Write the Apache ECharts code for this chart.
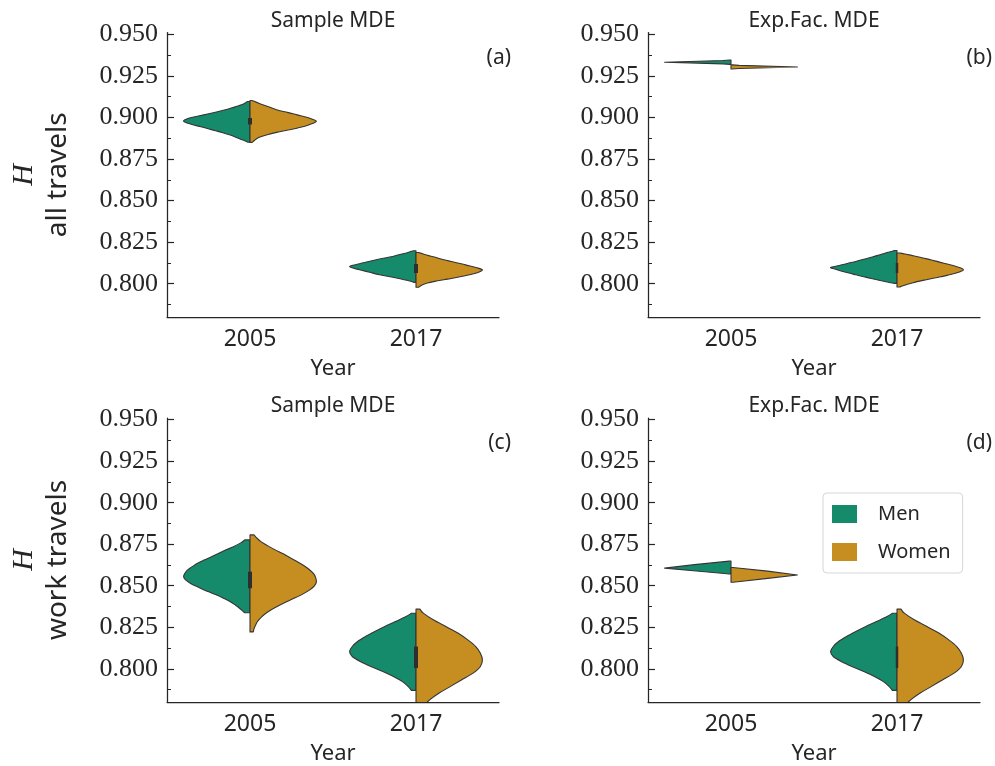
<!DOCTYPE html>
<html>
<head>
<meta charset="utf-8">
<script src="https://cdn.jsdelivr.net/npm/echarts@6/dist/echarts.min.js"></script>
<style>html,body{margin:0;padding:0;background:#fff}#chart{width:995px;height:766px}</style>
</head>
<body>
<div id="chart"></div>
<script>
// ---------------- data ----------------
const years = ['2005', '2017'];
const sexes = ['Men', 'Women'];
const yTicks = [0.800, 0.825, 0.850, 0.875, 0.900, 0.925, 0.950];
const yMinorTicks = [0.7875, 0.8125, 0.8375, 0.8625, 0.8875, 0.9125, 0.9375];
const panelTitles = ['Sample MDE', 'Exp.Fac. MDE', 'Sample MDE', 'Exp.Fac. MDE'];
const panelTags = ['(a)', '(b)', '(c)', '(d)'];
const rowLabels = ['all travels', 'work travels'];
const xName = 'Year';

// half-violin outlines: [H value, relative half-width (1 = widest)]
const allSample2005Men = [[0.9096,0.04],[0.9082,0.09],[0.9070,0.17],[0.9058,0.27],[0.9046,0.37],[0.9034,0.49],[0.9022,0.62],[0.9010,0.76],[0.8998,0.90],[0.8986,0.98],[0.8977,1.00],[0.8968,0.96],[0.8956,0.86],[0.8944,0.74],[0.8932,0.63],[0.8920,0.52],[0.8908,0.41],[0.8896,0.31],[0.8884,0.23],[0.8872,0.16],[0.8860,0.08],[0.8851,0.03]];
const allSample2005Women = [[0.9102,0.03],[0.9082,0.15],[0.9064,0.28],[0.9046,0.40],[0.9034,0.52],[0.9022,0.65],[0.9010,0.76],[0.8998,0.88],[0.8986,0.96],[0.8976,1.00],[0.8965,0.95],[0.8952,0.86],[0.8941,0.76],[0.8930,0.65],[0.8920,0.52],[0.8910,0.40],[0.8896,0.26],[0.8882,0.15],[0.8869,0.09],[0.8856,0.05],[0.8850,0.03]];
const allSample2017Men = [[0.8198,0.04],[0.8191,0.10],[0.8183,0.16],[0.8174,0.26],[0.8164,0.35],[0.8155,0.47],[0.8144,0.60],[0.8132,0.73],[0.8120,0.85],[0.8111,0.95],[0.8104,1.00],[0.8094,0.95],[0.8084,0.85],[0.8069,0.70],[0.8054,0.55],[0.8042,0.39],[0.8030,0.24],[0.8021,0.14],[0.8014,0.07],[0.8008,0.03]];
const allSample2017Women = [[0.8188,0.04],[0.8180,0.10],[0.8171,0.17],[0.8159,0.29],[0.8144,0.42],[0.8132,0.55],[0.8120,0.68],[0.8108,0.80],[0.8096,0.92],[0.8084,1.00],[0.8072,0.96],[0.8060,0.87],[0.8048,0.74],[0.8034,0.57],[0.8024,0.42],[0.8014,0.28],[0.8004,0.17],[0.7994,0.10],[0.7985,0.06],[0.7979,0.04]];

const allExp2005Men = [[0.9345,0.02],[0.9342,0.12],[0.9332,1.00],[0.9322,0.12],[0.9319,0.02]];
const allExp2005Women = [[0.9316,0.02],[0.9313,0.12],[0.9303,1.00],[0.9294,0.12],[0.9291,0.02]];
const allExp2017Men = [[0.8200,0.04],[0.8192,0.10],[0.8185,0.17],[0.8173,0.27],[0.8161,0.37],[0.8147,0.50],[0.8134,0.62],[0.8122,0.75],[0.8110,0.87],[0.8098,1.00],[0.8089,0.94],[0.8080,0.87],[0.8066,0.74],[0.8054,0.62],[0.8042,0.50],[0.8030,0.37],[0.8021,0.27],[0.8012,0.17],[0.8006,0.09],[0.8002,0.04]];
const allExp2017Women = [[0.8185,0.04],[0.8179,0.12],[0.8167,0.26],[0.8155,0.39],[0.8143,0.52],[0.8130,0.64],[0.8117,0.77],[0.8104,0.89],[0.8093,0.97],[0.8084,1.00],[0.8074,0.96],[0.8064,0.89],[0.8052,0.77],[0.8040,0.64],[0.8030,0.51],[0.8020,0.39],[0.8006,0.24],[0.7994,0.14],[0.7986,0.08],[0.7980,0.04]];

const workSample2005Men = [[0.8776,0.08],[0.8758,0.14],[0.8735,0.25],[0.8716,0.36],[0.8696,0.47],[0.8675,0.58],[0.8655,0.69],[0.8636,0.79],[0.8615,0.87],[0.8595,0.94],[0.8575,0.98],[0.8555,1.00],[0.8535,0.97],[0.8515,0.90],[0.8495,0.80],[0.8475,0.69],[0.8455,0.57],[0.8435,0.45],[0.8415,0.35],[0.8395,0.26],[0.8375,0.19],[0.8355,0.13],[0.8337,0.08]];
const workSample2005Women = [[0.8806,0.06],[0.8788,0.10],[0.8764,0.17],[0.8740,0.27],[0.8716,0.38],[0.8692,0.50],[0.8667,0.61],[0.8643,0.72],[0.8619,0.82],[0.8595,0.90],[0.8571,0.96],[0.8547,0.99],[0.8523,1.00],[0.8499,0.97],[0.8475,0.90],[0.8451,0.80],[0.8427,0.68],[0.8403,0.55],[0.8379,0.43],[0.8355,0.32],[0.8331,0.23],[0.8307,0.16],[0.8283,0.11],[0.8259,0.08],[0.8241,0.06],[0.8222,0.05]];
const workSample2017Men = [[0.8334,0.07],[0.8315,0.15],[0.8284,0.31],[0.8254,0.47],[0.8224,0.62],[0.8194,0.76],[0.8164,0.88],[0.8134,0.96],[0.8104,1.00],[0.8074,0.96],[0.8044,0.84],[0.8014,0.68],[0.7984,0.50],[0.7954,0.34],[0.7924,0.21],[0.7894,0.12],[0.7870,0.07]];
const workSample2017Women = [[0.8359,0.06],[0.8335,0.11],[0.8295,0.26],[0.8254,0.45],[0.8215,0.63],[0.8174,0.78],[0.8134,0.90],[0.8094,0.97],[0.8054,1.00],[0.8014,0.97],[0.7974,0.86],[0.7934,0.69],[0.7894,0.52],[0.7854,0.35],[0.7814,0.21],[0.7778,0.12],[0.7742,0.06]];

const workExp2005Men = [[0.8648,0.03],[0.8645,0.10],[0.8627,0.55],[0.8606,1.00],[0.8589,0.52],[0.8574,0.10],[0.8571,0.03]];
const workExp2005Women = [[0.8610,0.03],[0.8607,0.10],[0.8588,0.55],[0.8565,1.00],[0.8543,0.52],[0.8524,0.10],[0.8521,0.03]];
const workExp2017Men = [[0.8334,0.07],[0.8315,0.15],[0.8284,0.31],[0.8254,0.47],[0.8224,0.62],[0.8194,0.76],[0.8164,0.88],[0.8134,0.96],[0.8104,1.00],[0.8074,0.96],[0.8044,0.84],[0.8014,0.68],[0.7984,0.50],[0.7954,0.34],[0.7924,0.21],[0.7894,0.12],[0.7870,0.07]];
const workExp2017Women = [[0.8359,0.06],[0.8335,0.11],[0.8295,0.26],[0.8254,0.45],[0.8215,0.63],[0.8174,0.78],[0.8134,0.90],[0.8094,0.97],[0.8054,1.00],[0.8014,0.97],[0.7974,0.86],[0.7934,0.69],[0.7894,0.52],[0.7854,0.35],[0.7814,0.21],[0.7778,0.12],[0.7742,0.06]];

// inner box (interquartile range) per year: [q1, q3]
const boxAllSample = [[0.8957,0.8997],[0.8064,0.8118]];
const boxAllExp = [null,[0.8064,0.8124]];
const boxWorkSample = [[0.8485,0.8585],[0.8004,0.8134]];
const boxWorkExp = [null,[0.8004,0.8134]];

// ---------------- layout / style ----------------
const GREEN = '#168b6b', ORANGE = '#c68d20', EDGE = '#353535', INK = '#262626';
const Y_MIN = 0.78, Y_MAX = 0.951;
const grids = [
  {left:167, top:32.6, width:332, height:284.4},
  {left:648, top:32.6, width:332, height:284.4},
  {left:167, top:418, width:332, height:284.4},
  {left:648, top:418, width:332, height:284.4}
];
const panels = [
  {men:[allSample2005Men, allSample2017Men], women:[allSample2005Women, allSample2017Women], box:boxAllSample, sharp:[false,false], boxW:4},
  {men:[allExp2005Men, allExp2017Men], women:[allExp2005Women, allExp2017Women], box:boxAllExp, sharp:[true,false], boxW:2.5},
  {men:[workSample2005Men, workSample2017Men], women:[workSample2005Women, workSample2017Women], box:boxWorkSample, sharp:[false,false], boxW:4},
  {men:[workExp2005Men, workExp2017Men], women:[workExp2005Women, workExp2017Women], box:boxWorkExp, sharp:[true,false], boxW:2.5}
];

function halfRenderer(profiles, side, color, sharpFlags) {
  return function (params, api) {
    const ci = api.value(0);
    const prof = profiles[ci];
    const band = api.size([1, 0])[0];
    const hw = band * 0.4;
    const cx = api.coord([ci, prof[0][0]])[0];
    const pts = prof.map(function (p) {
      const c = api.coord([ci, p[0]]);
      return [cx + side * p[1] * hw, c[1]];
    });
    let d = 'M' + cx + ',' + pts[0][1] + ' L' + pts[0][0] + ',' + pts[0][1];
    if (sharpFlags[ci]) {
      for (let i = 1; i < pts.length; i++) d += ' L' + pts[i][0] + ',' + pts[i][1];
    } else {
      for (let i = 0; i < pts.length - 1; i++) {
        const p0 = pts[i - 1] || pts[i], p1 = pts[i], p2 = pts[i + 1], p3 = pts[i + 2] || pts[i + 1];
        const c1x = p1[0] + (p2[0] - p0[0]) / 6, c1y = p1[1] + (p2[1] - p0[1]) / 6;
        const c2x = p2[0] - (p3[0] - p1[0]) / 6, c2y = p2[1] - (p3[1] - p1[1]) / 6;
        d += ' C' + c1x + ',' + c1y + ' ' + c2x + ',' + c2y + ' ' + p2[0] + ',' + p2[1];
      }
    }
    d += ' L' + cx + ',' + pts[pts.length - 1][1] + ' Z';
    return {
      type: 'path',
      shape: {pathData: d},
      style: {fill: color, stroke: EDGE, lineWidth: 1.1, lineJoin: 'round'}
    };
  };
}

function boxRenderer(boxes, w) {
  return function (params, api) {
    const ci = api.value(0);
    const b = boxes[ci];
    if (!b) return null;
    const lo = api.coord([ci, b[0]]), hi = api.coord([ci, b[1]]);
    return {
      type: 'rect',
      shape: {x: lo[0] - w / 2, y: hi[1], width: w, height: lo[1] - hi[1]},
      style: {fill: '#2e2e2e'}
    };
  };
}

const xAxes = [], yAxes = [], series = [], graphics = [];
grids.forEach(function (g, i) {
  xAxes.push({
    gridIndex: i, type: 'category', data: years, boundaryGap: true,
    axisLine: {lineStyle: {color: INK, width: 1.25}},
    axisTick: {inside: true, alignWithLabel: true, length: 7, lineStyle: {color: INK, width: 1.2}},
    axisLabel: {fontFamily: 'Noto Sans', fontSize: 23, color: INK, margin: 11},
    splitLine: {show: false},
    name: xName, nameLocation: 'middle', nameGap: 41,
    nameTextStyle: {fontFamily: 'Noto Sans', fontSize: 22, color: INK}
  });
  const yMain = {
    gridIndex: i, type: 'value', min: Y_MIN, max: Y_MAX, position: 'left',
    axisLine: {show: true, lineStyle: {color: INK, width: 1.25}},
    axisTick: {show: true, inside: true, length: 7, customValues: yTicks, lineStyle: {color: INK, width: 1.2}},
    axisLabel: {customValues: yTicks, formatter: function (v) { return v.toFixed(3); },
      fontFamily: 'Liberation Serif', fontSize: 26, color: INK, margin: 9},
    splitLine: {show: false}
  };
  if (i % 2 === 0) {
    yMain.name = '{h|H}\n{t|' + rowLabels[i / 2] + '}';
    yMain.nameLocation = 'middle';
    yMain.nameRotate = 90;
    yMain.nameGap = 92;
    yMain.nameTextStyle = {rich: {
      h: {fontFamily: 'Liberation Serif', fontStyle: 'italic', fontSize: 30, color: INK, lineHeight: 34},
      t: {fontFamily: 'Noto Sans', fontSize: 28, color: INK, lineHeight: 34}
    }};
  }
  yAxes.push(yMain);
  yAxes.push({
    gridIndex: i, type: 'value', min: Y_MIN, max: Y_MAX, position: 'left', offset: 0,
    axisLine: {show: false},
    axisTick: {show: true, inside: true, length: 4, customValues: yMinorTicks, lineStyle: {color: INK, width: 1}},
    axisLabel: {show: false},
    splitLine: {show: false}
  });
  const p = panels[i];
  series.push({
    type: 'custom', name: sexes[0], xAxisIndex: i, yAxisIndex: 2 * i, clip: true,
    itemStyle: {color: GREEN},
    renderItem: halfRenderer(p.men, -1, GREEN, p.sharp),
    data: [[0], [1]], z: 2
  });
  series.push({
    type: 'custom', name: sexes[1], xAxisIndex: i, yAxisIndex: 2 * i, clip: true,
    itemStyle: {color: ORANGE},
    renderItem: halfRenderer(p.women, 1, ORANGE, p.sharp),
    data: [[0], [1]], z: 2
  });
  series.push({
    type: 'custom', name: 'box' + i, xAxisIndex: i, yAxisIndex: 2 * i, clip: true,
    renderItem: boxRenderer(p.box, p.boxW),
    data: [[0], [1]], z: 3, silent: true
  });
  graphics.push({
    type: 'text', x: g.left + g.width / 2, y: g.top - 12,
    style: {text: panelTitles[i], font: '21px "Noto Sans"', fill: INK, textAlign: 'center', textVerticalAlign: 'middle'}
  });
  graphics.push({
    type: 'text', x: g.left + g.width + 12, y: g.top + 25,
    style: {text: panelTags[i], font: '21px "Noto Sans"', fill: INK, textAlign: 'right', textVerticalAlign: 'middle'}
  });
});

const chart = echarts.init(document.getElementById('chart'), null, {renderer: 'canvas'});
chart.setOption({
  animation: false,
  backgroundColor: '#ffffff',
  color: [GREEN, ORANGE],
  grid: grids,
  xAxis: xAxes,
  yAxis: yAxes,
  series: series,
  graphic: graphics,
  legend: {
    data: sexes, orient: 'vertical', left: 823, top: 493,
    icon: 'rect', itemWidth: 25, itemHeight: 18, itemGap: 18,
    padding: [11, 12, 11, 9],
    borderColor: '#d6d6d6', borderWidth: 1, borderRadius: 4, backgroundColor: '#ffffff',
    itemStyle: {borderWidth: 0},
    textStyle: {fontFamily: 'Noto Sans', fontSize: 20, color: INK, padding: [0, 0, 0, 16]}
  }
});
</script>
</body>
</html>
